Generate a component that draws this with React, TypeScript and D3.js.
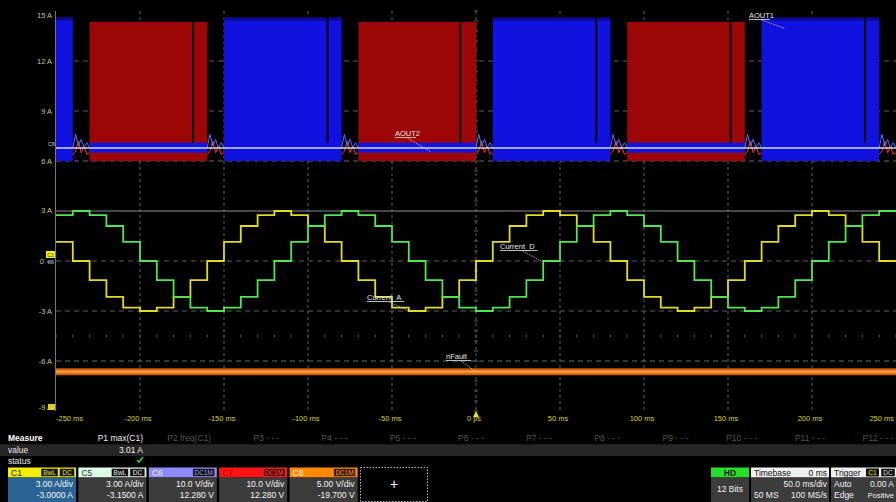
import React from "react";
import * as d3 from "d3";

const W = 896;
const H = 502;

// ---- axis data ----
const timeTicks = [-250, -200, -150, -100, -50, 0, 50, 100, 150, 200, 250];
const timeTickLabels = ["-250 ms", "-200 ms", "-150 ms", "-100 ms", "-50 ms", "0 ps", "50 ms", "100 ms", "150 ms", "200 ms", "250 ms"];
const ampTicks = [15, 12, 9, 6, 3, 0, -3, -6, -9];
const ampTickLabels = ["15 A", "12 A", "9 A", "6 A", "3 A", "0", "-3 A", "-6 A", "-9 A"];

// ---- waveform data (one value per 10 ms step, starting at -250 ms) ----
const stepStartMs = -250;
const stepMs = 10;
const currentA = [
  1.15, 0, -1.15, -2.15, -2.8, -3.0, -2.8, -2.15, -1.15, 0,
  1.15, 2.1, 2.75, 3.0, 2.75, 2.1, 1.15, 0, -1.15, -2.15,
  -2.8, -3.0, -2.8, -2.15, -1.15, 0, 1.15, 2.1, 2.75, 3.0,
  2.75, 2.1, 1.15, 0, -1.15, -2.15, -2.8, -3.0, -2.8, -2.15,
  -1.15, 0, 1.15, 2.1, 2.75, 3.0, 2.75, 2.1, 1.15, 0,
];
const currentD = [
  2.75, 3.0, 2.75, 2.1, 1.15, 0, -1.15, -2.15, -2.8, -3.0,
  -2.8, -2.15, -1.15, 0, 1.15, 2.1, 2.75, 3.0, 2.75, 2.1,
  1.15, 0, -1.15, -2.15, -2.8, -3.0, -2.8, -2.15, -1.15, 0,
  1.15, 2.1, 2.75, 3.0, 2.75, 2.1, 1.15, 0, -1.15, -2.15,
  -2.8, -3.0, -2.8, -2.15, -1.15, 0, 1.15, 2.1, 2.75, 3.0,
];
const nFaultLevel = -6.65;
const aout1Top = 14.6;
const aout2Top = 14.35;
const aoutLow = 6;
const aout1BandLow = 6.5;
const aout1BandHigh = 7.1;
const aout1Line = 6.78;
const dropoutMs = [-169, -89, -10, 71, 151, 231];
const gapSpikeBlue = [6.8, 7.6, 6.9, 7.3, 6.8, 7.1, 6.8];
const gapSpikeRed = [6.4, 6.6, 7.2, 6.5, 6.9, 6.4, 6.5];

const annotations = [
  { label: "AOUT1", t: 184, v: 13.95, tx: 749, ty: 18 },
  { label: "AOUT2", t: -27, v: 6.55, tx: 395, ty: 136 },
  { label: "Current_D", t: 39, v: 0.0, tx: 500, ty: 249 },
  { label: "Current_A", t: -39, v: -3.05, tx: 367, ty: 300 },
  { label: "nFault", t: 0, v: -6.65, tx: 446, ty: 359 },
];

// ---- bottom panel data ----
const measureParams = ["P1 max(C1)", "P2 freq(C1)", "P3 - - -", "P4 - - -", "P5 - - -", "P6 - - -", "P7 - - -", "P8 - - -", "P9 - - -", "P10 - - -", "P11 - - -", "P12 - - -"];
const measureValue = "3.01 A";
const channels = [
  { name: "C1", head: "#f2f000", nameColor: "#111", badges: ["BwL", "DC"], badgeBg: "#111", badgeColor: "#f2f000", body: "#2b6494", scale: "3.00 A/div", offset: "-3.0000 A" },
  { name: "C5", head: "#dcffe6", nameColor: "#333", badges: ["BwL", "DC"], badgeBg: "#111", badgeColor: "#e8e8e8", body: "#3c3c3c", scale: "3.00 A/div", offset: "-3.1500 A" },
  { name: "C6", head: "#8c8cff", nameColor: "#f0f0ff", badges: ["DC1M"], badgeBg: "#111", badgeColor: "#a0a0ff", body: "#3c3c3c", scale: "10.0 V/div", offset: "12.280 V" },
  { name: "C7", head: "#ff1414", nameColor: "#c00000", badges: ["DC1M"], badgeBg: "#5a0000", badgeColor: "#ff5050", body: "#3c3c3c", scale: "10.0 V/div", offset: "12.280 V" },
  { name: "C8", head: "#ff8a00", nameColor: "#fff0e0", badges: ["DC1M"], badgeBg: "#3a1800", badgeColor: "#ff9a30", body: "#3c3c3c", scale: "5.00 V/div", offset: "-19.700 V" },
];

const FONT = "'Liberation Sans', Arial, sans-serif";

export default function App() {
  const x = d3.scaleLinear().domain([-250, 250]).range([56, 896]);
  const y = d3.scaleLinear().domain([-9, 15]).range([411, 11]);
  const stepT = (i: number) => stepStartMs + i * stepMs;

  const stepLine = (vals: number[]) => {
    const pts: [number, number][] = vals.map((v, i) => [stepT(i), v]);
    pts.push([stepT(vals.length), vals[vals.length - 1]]);
    return d3
      .line<[number, number]>()
      .x((d) => x(d[0]))
      .y((d) => y(d[1]))
      .curve(d3.curveStepAfter)(pts) as string;
  };

  // runs of H-bridge state derived from current A sign
  const runs: { s: number; start: number; end: number }[] = [];
  currentA.forEach((v, i) => {
    const s = v > 0 ? 1 : v < 0 ? -1 : 0;
    const last = runs[runs.length - 1];
    if (last && last.s === s) last.end = i + 1;
    else runs.push({ s, start: i, end: i + 1 });
  });

  const spikePath = (vals: number[], t0: number, t1: number) =>
    d3
      .line<number>()
      .x((_, i) => x(t0 + ((t1 - t0) * i) / (vals.length - 1)))
      .y((d) => y(d))(vals) as string;

  const gridColor = "#5e5e5e";
  const divTimes = timeTicks.slice(1, -1);

  return (
    <svg
      width={W}
      height={H}
      style={{ position: "absolute", left: 0, top: 0, background: "#000", display: "block" }}
      fontFamily={FONT}
    >
      <rect x={0} y={0} width={W} height={H} fill="#000" />

      {/* grid */}
      {divTimes.map((t) => (
        <line key={"vg" + t} x1={x(t)} x2={x(t)} y1={y(15)} y2={y(-9)} stroke={gridColor} strokeDasharray="3,3" />
      ))}
      {[12, 9, 6, 0, -3, -6].map((v) => (
        <line key={"hg" + v} x1={x(-250)} x2={x(250)} y1={y(v)} y2={y(v)} stroke={v === 6 || v === -6 ? "#6a6a6a" : gridColor} strokeDasharray="5,4" />
      ))}
      <line x1={x(-250)} x2={x(250)} y1={y(3)} y2={y(3)} stroke="#8a8a8a" strokeWidth={1} />
      {d3.range(-250, 251, 10).map((t) => (
        <line key={"dt" + t} x1={x(t)} x2={x(t)} y1={y(-4.5) - 1.5} y2={y(-4.5) + 1.5} stroke="#5a5a5a" />
      ))}
      {d3.range(-9, 15.01, 0.6).map((v, i) => (
        <line key={"ct" + i} x1={x(0) - 2} x2={x(0) + 2} y1={y(v)} y2={y(v)} stroke="#5a5a5a" />
      ))}
      <line x1={55.5} x2={55.5} y1={y(15)} y2={y(-9)} stroke="#777" />

      {/* AOUT1 / AOUT2 top panel */}
      {runs.map((r, i) => {
        const t0 = stepT(r.start);
        const t1 = stepT(r.end);
        const x0 = x(t0);
        const x1 = x(t1);
        if (r.s === 1) {
          return (
            <g key={"run" + i}>
              <rect x={x0} y={y(aout1Top)} width={x1 - x0} height={y(aoutLow) - y(aout1Top)} fill="#1212e0" />
              <rect x={x0} y={y(aout1Top)} width={x1 - x0} height={3} fill="#0a0a90" />
            </g>
          );
        }
        if (r.s === -1) {
          return (
            <g key={"run" + i}>
              <rect x={x0} y={y(aout2Top)} width={x1 - x0} height={y(aoutLow) - y(aout2Top)} fill="#9c0606" />
              <rect x={x0} y={y(aout1BandHigh)} width={x1 - x0} height={y(aout1BandLow) - y(aout1BandHigh)} fill="#1414dc" />
            </g>
          );
        }
        return (
          <g key={"run" + i}>
            <path d={spikePath(gapSpikeRed, t0, t1)} fill="none" stroke="#ff3030" strokeWidth={1} />
            <path d={spikePath(gapSpikeBlue, t0, t1)} fill="none" stroke="#5a6aff" strokeWidth={1} />
          </g>
        );
      })}
      {dropoutMs.map((t) => (
        <rect key={"do" + t} x={x(t)} y={y(15)} width={2} height={y(aout1BandHigh) - y(15)} fill="#000" />
      ))}
      <line x1={x(-250)} x2={x(250)} y1={y(aout1Line)} y2={y(aout1Line)} stroke="#cfdcff" strokeWidth={1.6} />

      {/* nFault */}
      <line x1={x(-250)} x2={x(250)} y1={y(nFaultLevel)} y2={y(nFaultLevel)} stroke="#c85c08" strokeWidth={7} />
      <line x1={x(-250)} x2={x(250)} y1={y(nFaultLevel)} y2={y(nFaultLevel)} stroke="#ff9536" strokeWidth={3} />

      {/* currents */}
      <path d={stepLine(currentA)} fill="none" stroke="#e2dc1c" strokeWidth={1.8} />
      <path d={stepLine(currentD)} fill="none" stroke="#4fe64f" strokeWidth={1.8} />

      {/* annotations */}
      {annotations.map((a) => {
        const w = a.label.length * 4.15;
        return (
          <g key={a.label}>
            <text x={a.tx} y={a.ty} fill="#e8e8e8" fontSize={7.5}>{a.label}</text>
            <line x1={a.tx} x2={a.tx + w} y1={a.ty + 1.5} y2={a.ty + 1.5} stroke="#e8e8e8" strokeWidth={0.8} />
            <line x1={a.tx + w * 0.6} y1={a.ty + 2} x2={x(a.t)} y2={y(a.v)} stroke="#d0d0d0" strokeWidth={0.8} strokeDasharray="1.5,1" />
          </g>
        );
      })}

      {/* y axis labels */}
      {ampTicks.map((v, i) => {
        let yy = y(v) + 3;
        if (v === 15) yy = 18;
        if (v === -9) yy = 410;
        if (v === 3) yy = y(v) + 2;
        return (
          <text key={"yl" + v} x={v === 0 ? 44 : 52} y={yy} textAnchor="end" fill="#c8c890" fontSize={7.5}>
            {ampTickLabels[i]}
          </text>
        );
      })}
      <rect x={46} y={251} width={9} height={7} fill="#f0f000" />
      <text x={50.5} y={257} textAnchor="middle" fill="#222" fontSize={5}>C1</text>
      <path d="M48,261 h6 M48,261 v2 h6" stroke="#e0e0e0" strokeWidth={0.8} fill="none" />
      <text x={48} y={146} fill="#d0d0ff" fontSize={5.5}>C6</text>
      <rect x={48} y={404} width={7} height={6} fill="#e0d020" />

      {/* time labels */}
      {timeTicks.map((t, i) => {
        const anchor = i === 0 ? "start" : i === timeTicks.length - 1 ? "end" : "middle";
        const xx = i === 0 ? 56 : i === timeTicks.length - 1 ? 894 : x(t) - 2;
        return (
          <text key={"tl" + t} x={xx} y={421} textAnchor={anchor} fill="#d8d428" fontSize={7.5}>
            {timeTickLabels[i]}
          </text>
        );
      })}
      <path d={`M${x(0)},411 L${x(0) + 3},417 L${x(0) - 3},417 Z`} fill="#f0e020" />

      {/* measure table */}
      <text x={8} y={441} fill="#fff" fontSize={8.5} fontWeight="bold">Measure</text>
      {measureParams.map((p, i) => (
        <text key={p} x={Math.min(143 + i * 68.2, 894)} y={441} textAnchor="end" fill={i === 0 ? "#f0f0f0" : "#555"} fontSize={8.5}>
          {p}
        </text>
      ))}
      <rect x={0} y={445.5} width={W} height={10.5} fill="#262626" />
      <line x1={0} x2={W} y1={445} y2={445} stroke="#3a3a3a" />
      <text x={8} y={453} fill="#e8e8e8" fontSize={8.5}>value</text>
      <text x={143} y={453} textAnchor="end" fill="#f0f0f0" fontSize={8.5}>{measureValue}</text>
      <text x={8} y={463.5} fill="#e8e8e8" fontSize={8.5}>status</text>
      <path d="M137,460 l2,2 l4,-5" stroke="#3ad03a" strokeWidth={1.6} fill="none" />

      {/* channel boxes */}
      {channels.map((c, i) => {
        const bx = 8 + i * 70.4;
        const bw = 68;
        return (
          <g key={c.name}>
            <rect x={bx} y={467.5} width={bw} height={10} fill={c.head} />
            <text x={bx + 3} y={476} fill={c.nameColor} fontSize={8.5}>{c.name}</text>
            {c.badges.map((b, j) => {
              const widths = c.badges.length === 2 ? [17, 15] : [22];
              const xs = c.badges.length === 2 ? [bx + 33, bx + 51.5] : [bx + 44];
              return (
                <g key={b}>
                  <rect x={xs[j]} y={468.5} width={widths[j]} height={8} fill={c.badgeBg} stroke={c.badgeColor} strokeWidth={0.5} />
                  <text x={xs[j] + widths[j] / 2} y={475.3} textAnchor="middle" fill={c.badgeColor} fontSize={6.5}>{b}</text>
                </g>
              );
            })}
            <rect x={bx} y={477.5} width={bw} height={25} fill={c.body} />
            <text x={bx + bw - 3} y={487} textAnchor="end" fill="#f4f4f4" fontSize={8.5}>{c.scale}</text>
            <text x={bx + bw - 3} y={498} textAnchor="end" fill="#f4f4f4" fontSize={8.5}>{c.offset}</text>
          </g>
        );
      })}
      <rect x={360.5} y={467.5} width={67} height={34} fill="none" stroke="#b8b8b8" strokeDasharray="1.5,1.5" />
      <text x={394} y={489} textAnchor="middle" fill="#fff" fontSize={14}>+</text>

      {/* right status boxes */}
      <rect x={711} y={467.5} width={38} height={10} fill="#28e028" />
      <text x={730} y={476} textAnchor="middle" fill="#111" fontSize={8.5} fontWeight="bold">HD</text>
      <rect x={711} y={477.5} width={38} height={25} fill="#3c3c3c" />
      <text x={730} y={492} textAnchor="middle" fill="#f0f0f0" fontSize={8.5}>12 Bits</text>

      <rect x={751} y={467.5} width={78} height={10} fill="#f0f0f0" />
      <text x={754} y={476} fill="#111" fontSize={8.5}>Timebase</text>
      <text x={827} y={476} textAnchor="end" fill="#111" fontSize={8.5}>0 ms</text>
      <rect x={751} y={477.5} width={78} height={25} fill="#3c3c3c" />
      <text x={827} y={487} textAnchor="end" fill="#f0f0f0" fontSize={8.5}>50.0 ms/div</text>
      <text x={754} y={498} fill="#f0f0f0" fontSize={8.5}>50 MS</text>
      <text x={827} y={498} textAnchor="end" fill="#f0f0f0" fontSize={8.5}>100 MS/s</text>

      <rect x={831} y={467.5} width={70} height={10} fill="#f0f0f0" />
      <text x={834} y={476} fill="#111" fontSize={8.5}>Trigger</text>
      <rect x={866} y={468.5} width={13} height={8} fill="#111" />
      <text x={872.5} y={475.3} textAnchor="middle" fill="#f0f000" fontSize={6.5}>C1</text>
      <rect x={881} y={468.5} width={14} height={8} fill="#111" stroke="#ddd" strokeWidth={0.5} />
      <text x={888} y={475.3} textAnchor="middle" fill="#ddd" fontSize={6.5}>DC</text>
      <rect x={831} y={477.5} width={70} height={25} fill="#3c3c3c" />
      <text x={834} y={487} fill="#f0f0f0" fontSize={8.5}>Auto</text>
      <text x={894} y={487} textAnchor="end" fill="#f0f0f0" fontSize={8.5}>0.00 A</text>
      <text x={834} y={498} fill="#f0f0f0" fontSize={8.5}>Edge</text>
      <text x={894} y={498} textAnchor="end" fill="#f0f0f0" fontSize={7.5}>Positive</text>
    </svg>
  );
}
